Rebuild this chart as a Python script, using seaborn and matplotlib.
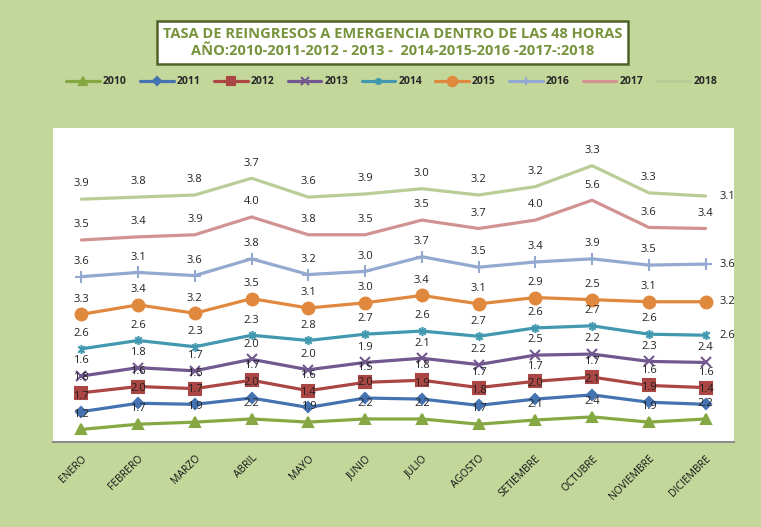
import numpy as np
import pandas as pd
import matplotlib
matplotlib.use('Agg')
import matplotlib.pyplot as plt
from matplotlib.path import Path
import seaborn as sns

sns.set_theme(style='white')
plt.rcParams['font.family'] = ['Open Sans', 'DejaVu Sans']

# --- data ---
months = ['ENERO', 'FEBRERO', 'MARZO', 'ABRIL', 'MAYO', 'JUNIO', 'JULIO',
          'AGOSTO', 'SETIEMBRE', 'OCTUBRE', 'NOVIEMBRE', 'DICIEMBRE']
years = ['2010', '2011', '2012', '2013', '2014', '2015', '2016', '2017', '2018']

v2010 = [1.2, 1.7, 1.9, 2.2, 1.9, 2.2, 2.2, 1.7, 2.1, 2.4, 1.9, 2.2]
v2011 = [1.7, 2.0, 1.7, 2.0, 1.4, 2.0, 1.9, 1.8, 2.0, 2.1, 1.9, 1.4]
v2012 = [1.8, 1.6, 1.5, 1.7, 1.6, 1.5, 1.8, 1.7, 1.7, 1.7, 1.6, 1.6]
v2013 = [1.6, 1.8, 1.7, 2.0, 2.0, 1.9, 2.1, 2.2, 2.5, 2.2, 2.3, 2.4]
v2014 = [2.6, 2.6, 2.3, 2.3, 2.8, 2.7, 2.6, 2.7, 2.6, 2.7, 2.6, 2.6]
v2015 = [3.3, 3.4, 3.2, 3.5, 3.1, 3.0, 3.4, 3.1, 2.9, 2.5, 3.1, 3.2]
v2016 = [3.6, 3.1, 3.6, 3.8, 3.2, 3.0, 3.7, 3.5, 3.4, 3.9, 3.5, 3.6]
v2017 = [3.5, 3.4, 3.9, 4.0, 3.8, 3.5, 3.5, 3.7, 4.0, 5.6, 3.6, 3.4]
v2018 = [3.9, 3.8, 3.8, 3.7, 3.6, 3.9, 3.0, 3.2, 3.2, 3.3, 3.3, 3.1]

values = [v2010, v2011, v2012, v2013, v2014, v2015, v2016, v2017, v2018]

# --- styling ---
colors = ['#86A843', '#4572B0', '#AA4643', '#71588F', '#4198AF',
          '#E0883D', '#93A9CF', '#D19392', '#B9CD96']

asterisk = Path([(-1, -1), (1, 1), (-1, 1), (1, -1), (0, -1.4), (0, 1.4)],
                [Path.MOVETO, Path.LINETO, Path.MOVETO, Path.LINETO,
                 Path.MOVETO, Path.LINETO])
markers = ['^', 'D', 's', 'x', asterisk, 'o', '+', None, None]
msizes = [7.5, 5.5, 8, 6.5, 6.5, 8.5, 8, 0, 0]
right_labels = {'2014', '2015', '2016', '2018'}  # last label sits to the right

bg = '#C4D79B'
fig = plt.figure(figsize=(7.61, 5.27), dpi=100, facecolor=bg)
ax = fig.add_axes([0.0696, 0.1613, 0.8949, 0.5958])
ax.set_facecolor('white')

x = np.arange(len(months))
stack = np.zeros(len(months))

for yr, vals, col, mk, ms in zip(years, values, colors, markers, msizes):
    stack = stack + np.array(vals)  # stacked line chart
    df = pd.DataFrame({'mes': x, 'tasa': stack})
    kw = dict(marker=mk, markersize=ms, markeredgecolor=col, markerfacecolor=col,
              markeredgewidth=1.5) if mk is not None else {}
    sns.lineplot(data=df, x='mes', y='tasa', color=col, linewidth=2.3,
                 ax=ax, label=yr, **kw)
    for i, (xi, yi, v) in enumerate(zip(x, stack, vals)):
        if i == len(x) - 1 and yr in right_labels:
            ax.annotate(f'{v:.1f}', (xi, yi), xytext=(10, 0), textcoords='offset points',
                        ha='left', va='center', fontsize=8, color='#222222')
        else:
            ax.annotate(f'{v:.1f}', (xi, yi), xytext=(0, 7), textcoords='offset points',
                        ha='center', va='bottom', fontsize=8, color='#222222')

handles, labels = ax.get_legend_handles_labels()
if ax.get_legend() is not None:
    ax.get_legend().remove()

ax.set_xlim(-0.5, 11.5)
ax.set_ylim(0, 30)
ax.set_xlabel('')
ax.set_ylabel('')
ax.set_yticks([])
ax.set_xticks(x)
ax.set_xticklabels(months, rotation=45, ha='right', rotation_mode='anchor',
                   fontsize=7.5, color='#111111')
ax.tick_params(axis='x', length=0, pad=8)
for s in ['top', 'left', 'right']:
    ax.spines[s].set_visible(False)
ax.spines['bottom'].set_color('#8C8C8C')
ax.spines['bottom'].set_linewidth(1.5)

fig.legend(handles, labels, loc='center', bbox_to_anchor=(0.515, 0.845), ncol=9,
           frameon=False, handlelength=3.2, handletextpad=0.3, columnspacing=1.3,
           markerscale=0.8, prop={'size': 7.5, 'weight': 'bold'})

fig.text(0.516, 0.920,
         'TASA DE REINGRESOS A EMERGENCIA DENTRO DE LAS 48 HORAS\n'
         'AÑO:2010-2011-2012 - 2013 -  2014-2015-2016 -2017-:2018',
         ha='center', va='center', fontsize=10.5, fontweight='bold',
         color='#77933C', linespacing=1.3,
         bbox=dict(boxstyle='square,pad=0.4', facecolor='white',
                   edgecolor='#4F6228', linewidth=1.8))

plt.savefig('out.png', dpi=100, facecolor=bg)
